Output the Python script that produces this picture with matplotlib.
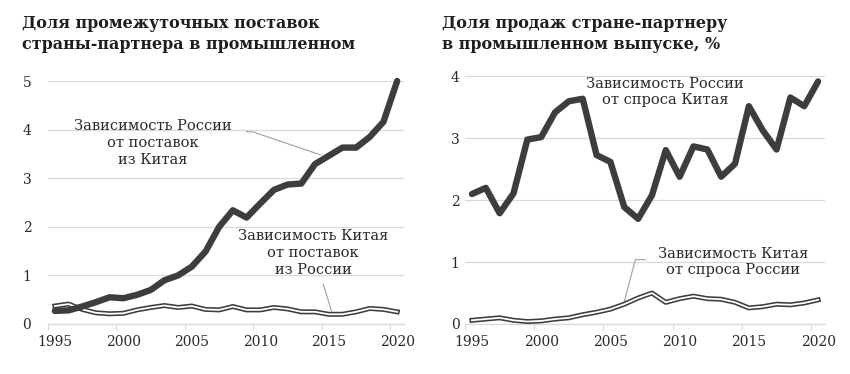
import matplotlib
matplotlib.use("Agg")
import matplotlib.pyplot as plt
import numpy as np

years = list(range(1995, 2021))

# Left panel: share of partner's intermediate supplies in industrial output, %
rus_from_china_supply = [0.27, 0.28, 0.36, 0.45, 0.55, 0.53, 0.60, 0.70, 0.90, 1.00,
                         1.18, 1.49, 2.00, 2.34, 2.19, 2.48, 2.76, 2.87, 2.89, 3.29,
                         3.46, 3.63, 3.63, 3.85, 4.16, 5.00]
china_from_rus_supply = [0.37, 0.41, 0.30, 0.23, 0.21, 0.22, 0.29, 0.34, 0.38, 0.34,
                         0.37, 0.30, 0.29, 0.36, 0.29, 0.29, 0.34, 0.31, 0.25, 0.25,
                         0.20, 0.20, 0.25, 0.32, 0.30, 0.25]

# Right panel: share of sales to partner in industrial output, %
rus_on_china_demand = [2.10, 2.20, 1.79, 2.11, 2.98, 3.02, 3.42, 3.60, 3.64, 2.73,
                       2.62, 1.89, 1.70, 2.08, 2.81, 2.38, 2.87, 2.82, 2.38, 2.59,
                       3.52, 3.13, 2.82, 3.66, 3.52, 3.92]
china_on_rus_demand = [0.06, 0.08, 0.10, 0.06, 0.04, 0.05, 0.08, 0.10, 0.15, 0.19,
                       0.24, 0.32, 0.42, 0.50, 0.35, 0.41, 0.45, 0.41, 0.40, 0.35,
                       0.26, 0.28, 0.32, 0.31, 0.34, 0.39]

title_left = "Доля промежуточных поставок\nстраны-партнера в промышленном"
title_right = "Доля продаж стране-партнеру\nв промышленном выпуске, %"
yticks_left = [0, 1, 2, 3, 4, 5]
yticks_right = [0, 1, 2, 3, 4]
xtick_years = [1995, 2000, 2005, 2010, 2015, 2020]

SERIF = ["DejaVu Serif"]
plt.rcParams['font.family'] = SERIF

DARK = "#3d3d3d"
GRID = "#d9d9d9"
TXT = "#2a2a2a"

fig = plt.figure(figsize=(8.5, 3.74), dpi=100)
axL = fig.add_axes([0.0565, 0.1337, 0.4188, 0.6497])
axR = fig.add_axes([0.5471, 0.1337, 0.4235, 0.6618])


def style(ax, yticks, pad):
    ax.set_xlim(1994.5, 2020.5)
    ax.set_ylim(0, max(yticks))
    ax.set_yticks(yticks)
    ax.set_yticklabels([str(v) for v in yticks])
    ax.set_xticks(xtick_years)
    ax.set_xticklabels([str(v) for v in xtick_years])
    ax.set_xticks([y - 0.5 for y in xtick_years], minor=True)
    ax.tick_params(axis='x', which='major', length=0, pad=8, labelsize=10, colors=TXT)
    ax.tick_params(axis='x', which='minor', length=4, width=0.8, color=GRID)
    ax.tick_params(axis='y', length=0, pad=pad, labelsize=10, colors=TXT)
    for s in ['top', 'right', 'left']:
        ax.spines[s].set_visible(False)
    ax.spines['bottom'].set_color(GRID)
    ax.spines['bottom'].set_linewidth(0.9)
    ax.grid(axis='y', color=GRID, linewidth=0.9)
    ax.set_axisbelow(True)


def double_line(ax, x, y):
    ax.plot(x, y, color=DARK, lw=3.6, solid_joinstyle='round', clip_on=False, zorder=3)
    ax.plot(x, y, color="white", lw=1.3, solid_joinstyle='round', clip_on=False, zorder=3.1)


def thick_line(ax, x, y):
    ax.plot(x, y, color=DARK, lw=4.6, solid_joinstyle='round', solid_capstyle='round',
            clip_on=False, zorder=4)


style(axL, yticks_left, 12)
style(axR, yticks_right, 4)

double_line(axL, years, china_from_rus_supply)
thick_line(axL, years, rus_from_china_supply)
double_line(axR, years, china_on_rus_demand)
thick_line(axR, years, rus_on_china_demand)

# Titles
fig.text(22 / 850, 1 - 15 / 374, title_left, ha='left', va='top', fontsize=11.5,
         fontweight='bold', color="#1e1e1e", linespacing=1.3)
fig.text(442 / 850, 1 - 15 / 374, title_right, ha='left', va='top', fontsize=11.5,
         fontweight='bold', color="#1e1e1e", linespacing=1.3)

# Annotations
ann_kw = dict(ha='center', va='center', fontsize=10.5, color=TXT, linespacing=1.25)
fig.text(153 / 850, 1 - 143 / 374, "Зависимость России\nот поставок\nиз Китая", **ann_kw)
fig.text(313 / 850, 1 - 253 / 374, "Зависимость Китая\nот поставок\nиз России", **ann_kw)
fig.text(665 / 850, 1 - 92 / 374, "Зависимость России\nот спроса Китая", **ann_kw)
fig.text(733 / 850, 1 - 262 / 374, "Зависимость Китая\nот спроса России", **ann_kw)

# Leader lines (in data coordinates)
axL.plot([2009.0, 2009.5, 2014.4], [3.96, 3.95, 3.48], color="#a0a0a0", lw=0.8, zorder=2)
axL.plot([2014.6, 2015.2], [0.82, 0.27], color="#a0a0a0", lw=0.8, zorder=2)
axR.plot([2007.5, 2006.8, 2006.0], [1.04, 1.04, 0.36], color="#a0a0a0", lw=0.8, zorder=2)

fig.savefig("out.png", dpi=100, facecolor="white")
